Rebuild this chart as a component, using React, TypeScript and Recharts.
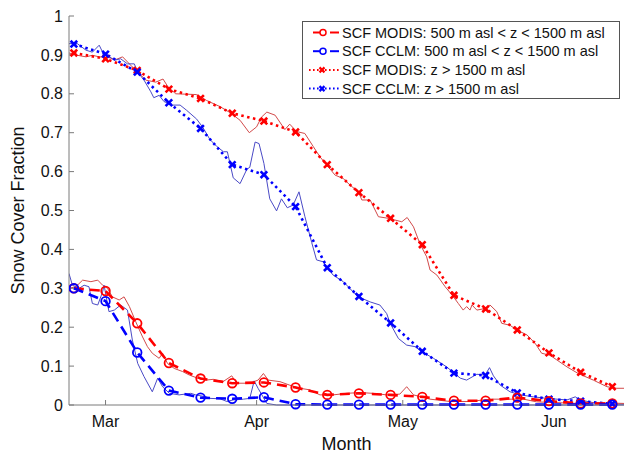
import React from 'react';
import { LineChart, Line, XAxis, YAxis, Label } from 'recharts';

// x values are days since 1 March
const monthTicks = [0, 31, 61, 92];
const monthLabels = ['Mar', 'Apr', 'May', 'Jun'];
const fractionTicks = [0, 0.1, 0.2, 0.3, 0.4, 0.5, 0.6, 0.7, 0.8, 0.9, 1];

// smoothed values (one marker per composite period)
const periodDays = [-6.5, 0, 6.5, 13, 19.5, 26, 32.5, 39, 45.5, 52, 58.5, 65, 71.5, 78, 84.5, 91, 97.5, 104];
const modisLow = [0.3, 0.293, 0.21, 0.108, 0.068, 0.056, 0.058, 0.045, 0.026, 0.03, 0.026, 0.021, 0.011, 0.011, 0.019, 0.01, 0.004, 0.004];
const cclmLow = [0.3, 0.267, 0.135, 0.037, 0.019, 0.016, 0.02, 0.002, 0.001, 0.001, 0.001, 0.001, 0.001, 0.001, 0.001, 0.001, 0.001, 0.001];
const modisHigh = [0.905, 0.89, 0.86, 0.812, 0.788, 0.75, 0.73, 0.702, 0.618, 0.546, 0.48, 0.412, 0.282, 0.247, 0.193, 0.134, 0.084, 0.047];
const cclmHigh = [0.928, 0.902, 0.856, 0.777, 0.711, 0.618, 0.592, 0.51, 0.353, 0.279, 0.211, 0.138, 0.082, 0.076, 0.031, 0.015, 0.01, 0.003];

// daily values [day, fraction]
const modisHighDaily: [number, number][] = [
  [-7.5, 0.905], [-5.8, 0.899], [-4.0, 0.895], [-2.7, 0.899], [-1.3, 0.895], [0.7, 0.893], [2.1, 0.888],
  [3.5, 0.895], [5.5, 0.869], [6.6, 0.856], [8.3, 0.835], [10.3, 0.83], [11.8, 0.838], [12.8, 0.818],
  [14.4, 0.8], [16.6, 0.799], [18.7, 0.798], [20.7, 0.783], [23.5, 0.767], [25.5, 0.752], [27.6, 0.732],
  [29.5, 0.7], [31.0, 0.715], [32.0, 0.74], [33.1, 0.753], [34.8, 0.745], [36.8, 0.708], [37.8, 0.722],
  [39.2, 0.703], [40.9, 0.698], [42.6, 0.665], [44.0, 0.638], [45.4, 0.617], [47.1, 0.591], [48.8, 0.582],
  [50.2, 0.565], [51.9, 0.548], [52.6, 0.527], [54.3, 0.527], [56.0, 0.484], [58.0, 0.48], [60.8, 0.471],
  [61.9, 0.482], [63.2, 0.458], [64.5, 0.415], [65.9, 0.381], [66.6, 0.347], [68.0, 0.334], [69.7, 0.304],
  [71.1, 0.283], [72.4, 0.261], [73.4, 0.244], [74.1, 0.253], [74.8, 0.244], [75.2, 0.257], [76.2, 0.244],
  [77.9, 0.248], [78.9, 0.257], [80.3, 0.24], [81.3, 0.21], [83.0, 0.205], [84.4, 0.193], [86.5, 0.18],
  [88.2, 0.158], [89.5, 0.133], [91.2, 0.128], [92.6, 0.116], [94.7, 0.098], [97.0, 0.081], [100.1, 0.064],
  [102.9, 0.047], [104.9, 0.043], [106.4, 0.043],
];
const cclmHighDaily: [number, number][] = [
  [-7.5, 0.929], [-5.8, 0.929], [-4.0, 0.912], [-2.7, 0.907], [-1.3, 0.925], [-0.6, 0.907], [0.4, 0.899],
  [1.8, 0.886], [3.1, 0.89], [4.5, 0.877], [5.9, 0.877], [6.6, 0.856], [7.9, 0.835], [9.3, 0.805],
  [9.9, 0.79], [11.0, 0.796], [12.0, 0.78], [13.8, 0.771], [15.3, 0.771], [16.6, 0.758], [18.7, 0.735],
  [20.0, 0.713], [21.4, 0.683], [22.8, 0.665], [24.2, 0.651], [25.0, 0.651], [26.2, 0.584], [27.6, 0.569],
  [29.0, 0.606], [29.6, 0.611], [30.7, 0.676], [31.5, 0.672], [32.5, 0.621], [33.7, 0.53], [35.1, 0.499],
  [36.1, 0.53], [37.3, 0.507], [38.5, 0.514], [39.7, 0.548], [40.9, 0.485], [42.3, 0.418], [43.3, 0.373],
  [44.7, 0.368], [45.4, 0.355], [46.7, 0.334], [48.8, 0.317], [50.8, 0.291], [51.9, 0.278], [54.3, 0.265],
  [56.3, 0.257], [57.7, 0.235], [58.4, 0.21], [60.1, 0.171], [61.8, 0.154], [63.5, 0.15], [64.9, 0.137],
  [67.3, 0.12], [70.0, 0.098], [72.8, 0.069], [74.1, 0.064], [76.2, 0.079], [77.9, 0.077], [78.8, 0.096],
  [79.6, 0.075], [81.0, 0.051], [83.0, 0.034], [85.1, 0.026], [87.8, 0.021], [90.6, 0.017], [94.7, 0.013],
  [96.4, 0.021], [97.4, 0.013], [100.1, 0.006], [103.6, 0.003], [106.4, 0.002],
];
const modisLowDaily: [number, number][] = [
  [-7.5, 0.3], [-6.1, 0.304], [-4.7, 0.321], [-3.0, 0.317], [-1.6, 0.321], [-0.6, 0.308], [0.4, 0.3],
  [1.4, 0.278], [2.8, 0.27], [3.8, 0.278], [4.9, 0.253], [6.2, 0.214], [7.6, 0.175], [8.6, 0.15],
  [9.6, 0.133], [11.0, 0.12], [11.7, 0.133], [12.7, 0.107], [14.1, 0.094], [15.8, 0.086], [17.2, 0.077],
  [18.9, 0.069], [20.6, 0.064], [22.1, 0.066], [24.1, 0.06], [25.9, 0.075], [26.9, 0.056], [29.6, 0.056],
  [31.3, 0.064], [32.4, 0.081], [33.4, 0.064], [35.8, 0.06], [37.8, 0.051], [39.9, 0.043], [41.9, 0.039],
  [44.0, 0.026], [46.7, 0.026], [49.5, 0.03], [52.2, 0.032], [54.9, 0.03], [57.7, 0.026], [60.4, 0.028],
  [61.8, 0.047], [63.2, 0.026], [66.6, 0.015], [70.7, 0.009], [74.8, 0.009], [78.9, 0.015], [83.0, 0.015],
  [85.8, 0.015], [88.5, 0.008], [92.6, 0.006], [96.7, 0.004], [100.8, 0.006], [106.4, 0.004],
];
const cclmLowDaily: [number, number][] = [
  [-7.5, 0.338], [-6.8, 0.308], [-5.4, 0.3], [-4.4, 0.308], [-3.4, 0.304], [-2.7, 0.261], [-1.6, 0.257],
  [-0.6, 0.291], [-0.3, 0.308], [0.7, 0.24], [1.8, 0.244], [3.1, 0.257], [4.5, 0.244], [5.5, 0.167],
  [6.6, 0.107], [7.9, 0.073], [9.6, 0.034], [10.7, 0.069], [11.7, 0.047], [13.1, 0.03], [15.1, 0.026],
  [17.5, 0.03], [18.5, 0.026], [20.6, 0.021], [21.4, 0.017], [23.5, 0.016], [24.9, 0.009], [26.2, 0.013],
  [28.3, 0.015], [29.6, 0.017], [30.5, 0.062], [31.3, 0.043], [33.1, 0.004], [35.1, 0], [106.4, 0],
];

const RED = '#ff0000';
const BLUE = '#0000ff';
const THIN_RED = '#d24a4a';
const THIN_BLUE = '#4a4ac6';
const AXIS = '#7a7a7a';
const FONT = '"Liberation Sans", Arial, sans-serif';

const weekly = periodDays.map((day, i) => ({
  day,
  modisLow: modisLow[i],
  cclmLow: cclmLow[i],
  modisHigh: modisHigh[i],
  cclmHigh: cclmHigh[i],
}));

const toPoints = (arr: [number, number][]) => arr.map(([day, v]) => ({ day, v }));

const crossPath = (cx: number, cy: number, s = 3.3) =>
  `M${cx - s},${cy - s}L${cx + s},${cy + s}M${cx - s},${cy + s}L${cx + s},${cy - s}`;

const crossDot = (color: string) => (props: any) => {
  const { cx, cy, index } = props;
  if (cx == null || cy == null) return <g key={index} />;
  return <path key={index} d={crossPath(cx, cy)} stroke={color} strokeWidth={2.6} fill="none" />;
};

const circleDot = (color: string) => (props: any) => {
  const { cx, cy, index } = props;
  if (cx == null || cy == null) return <g key={index} />;
  return <circle key={index} cx={cx} cy={cy} r={4.3} stroke={color} strokeWidth={1.8} fill="none" />;
};

const legendItems = [
  { label: 'SCF MODIS: 500 m asl < z < 1500 m asl', color: RED, kind: 'low' },
  { label: 'SCF CCLM: 500 m asl < z < 1500 m asl', color: BLUE, kind: 'low' },
  { label: 'SCF MODIS: z > 1500 m asl', color: RED, kind: 'high' },
  { label: 'SCF CCLM: z > 1500 m asl', color: BLUE, kind: 'high' },
];

const LegendBox = () => (
  <svg width={318} height={78} style={{ display: 'block' }}>
    <rect x={0.5} y={0.5} width={317} height={77} fill="#fff" stroke="#555" />
    {legendItems.map((it, i) => {
      const cy = 11.5 + i * 18.7;
      return (
        <g key={it.label}>
          {it.kind === 'low' ? (
            <>
              <line x1={11} y1={cy} x2={18} y2={cy} stroke={it.color} strokeWidth={2} />
              <circle cx={21} cy={cy} r={3} stroke={it.color} strokeWidth={1.5} fill="none" />
              <line x1={28} y1={cy} x2={37} y2={cy} stroke={it.color} strokeWidth={2} />
            </>
          ) : (
            <>
              <line x1={7} y1={cy} x2={37} y2={cy} stroke={it.color} strokeWidth={2} strokeDasharray="1.6 2.4" />
              <path d={crossPath(20, cy, 2.5)} stroke={it.color} strokeWidth={2.2} fill="none" />
            </>
          )}
          <text x={40} y={cy + 5} fontSize={14.5} fontFamily={FONT} fill="#111">
            {it.label}
          </text>
        </g>
      );
    })}
  </svg>
);

const tickStyle = { fontSize: 16, fontFamily: FONT, fill: '#111' };

export default function App() {
  return (
    <div style={{ position: 'absolute', left: 0, top: 0, width: 625, height: 457, background: '#fff' }}>
      <LineChart width={625} height={457} data={weekly} margin={{ top: 16, right: 1, bottom: 0, left: 0 }}>
        <XAxis
          dataKey="day"
          type="number"
          domain={[-7.5, 106.4]}
          allowDataOverflow
          ticks={monthTicks}
          tickFormatter={(v: number) => monthLabels[monthTicks.indexOf(v)] ?? ''}
          height={52}
          stroke={AXIS}
          tickSize={-5}
          tickMargin={16}
          tick={tickStyle}
          interval={0}
        >
          <Label
            content={() => (
              <text x={346.5} y={450} textAnchor="middle" fontSize={18} fontFamily={FONT} fill="#111">
                Month
              </text>
            )}
          />
        </XAxis>
        <XAxis
          xAxisId="top"
          orientation="top"
          type="number"
          domain={[-7.5, 106.4]}
          allowDataOverflow
          ticks={monthTicks}
          tickFormatter={() => ''}
          height={0}
          stroke={AXIS}
          tickSize={-5}
          interval={0}
        />
        <YAxis
          type="number"
          domain={[0, 1]}
          ticks={fractionTicks}
          tickFormatter={(v: number) => String(v)}
          width={69}
          stroke={AXIS}
          tickSize={-5}
          tickMargin={11}
          tick={tickStyle}
          interval={0}
        >
          <Label
            content={() => (
              <text
                x={24}
                y={210.5}
                transform="rotate(-90 24 210.5)"
                textAnchor="middle"
                fontSize={18}
                fontFamily={FONT}
                fill="#111"
              >
                Snow Cover Fraction
              </text>
            )}
          />
        </YAxis>
        <YAxis
          yAxisId="right"
          orientation="right"
          type="number"
          domain={[0, 1]}
          ticks={fractionTicks}
          tickFormatter={() => ''}
          width={0}
          stroke={AXIS}
          tickSize={-5}
          interval={0}
        />

        <Line data={toPoints(modisHighDaily)} dataKey="v" stroke={THIN_RED} strokeWidth={1} dot={false} isAnimationActive={false} />
        <Line data={toPoints(cclmHighDaily)} dataKey="v" stroke={THIN_BLUE} strokeWidth={1} dot={false} isAnimationActive={false} />
        <Line data={toPoints(modisLowDaily)} dataKey="v" stroke={THIN_RED} strokeWidth={1} dot={false} isAnimationActive={false} />
        <Line data={toPoints(cclmLowDaily)} dataKey="v" stroke={THIN_BLUE} strokeWidth={1} dot={false} isAnimationActive={false} />

        <Line dataKey="modisHigh" stroke={RED} strokeWidth={2.6} strokeDasharray="2.5 3.5" dot={crossDot(RED)} isAnimationActive={false} />
        <Line dataKey="cclmHigh" stroke={BLUE} strokeWidth={2.6} strokeDasharray="2.5 3.5" dot={crossDot(BLUE)} isAnimationActive={false} />
        <Line dataKey="modisLow" stroke={RED} strokeWidth={2.6} strokeDasharray="10 6" dot={circleDot(RED)} isAnimationActive={false} />
        <Line dataKey="cclmLow" stroke={BLUE} strokeWidth={2.6} strokeDasharray="10 6" dot={circleDot(BLUE)} isAnimationActive={false} />
      </LineChart>
      <div style={{ position: 'absolute', left: 302, top: 21 }}>
        <LegendBox />
      </div>
    </div>
  );
}
